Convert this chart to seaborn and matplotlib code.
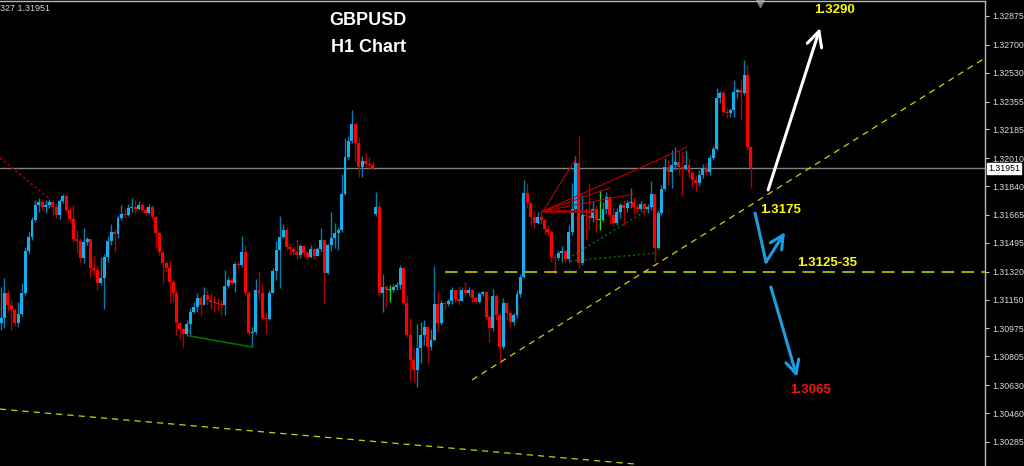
import numpy as np
import pandas as pd
import matplotlib
matplotlib.use("Agg")
import matplotlib.pyplot as plt
import matplotlib.transforms as mtransforms
import seaborn as sns

# GBPUSD H1 candles, open = previous close
first_open = 1.31008
gap_index = 109
gap_open = 1.31671

closes = [
    1.31039, 1.31191, 1.31118, 1.31087, 1.31008, 1.31063, 1.31191, 1.31446, 1.31531, 1.31634,
    1.31726, 1.31744, 1.31713, 1.31726, 1.31744, 1.31713, 1.31665, 1.31750, 1.31780, 1.31695,
    1.31640, 1.31519, 1.31507, 1.31403, 1.31501, 1.31519, 1.31343, 1.31330, 1.31251, 1.31282,
    1.31409, 1.31507, 1.31561, 1.31549, 1.31647, 1.31671, 1.31665, 1.31707, 1.31713, 1.31701,
    1.31726, 1.31695, 1.31677, 1.31713, 1.31653, 1.31555, 1.31440, 1.31373, 1.31343, 1.31257,
    1.31191, 1.31008, 1.30972, 1.30941, 1.31002, 1.31075, 1.31105, 1.31160, 1.31118, 1.31178,
    1.31148, 1.31136, 1.31130, 1.31124, 1.31118, 1.31233, 1.31270, 1.31251, 1.31367, 1.31361,
    1.31440, 1.31191, 1.30947, 1.30953, 1.31209, 1.31191, 1.31039, 1.31032, 1.31191, 1.31324,
    1.31452, 1.31531, 1.31574, 1.31470, 1.31458, 1.31440, 1.31422, 1.31476, 1.31434, 1.31409,
    1.31458, 1.31416, 1.31458, 1.31513, 1.31312, 1.31482, 1.31525, 1.31555, 1.31574, 1.31792,
    1.32017, 1.32115, 1.32218, 1.32103, 1.31957, 1.31993, 1.31975, 1.31969, 1.31944, 1.31713,
    1.31191, 1.31227, 1.31209, 1.31209, 1.31227, 1.31239, 1.31343, 1.31130, 1.30935, 1.30783,
    1.30722, 1.30856, 1.30935, 1.30984, 1.30862, 1.30905, 1.31124, 1.31008, 1.31130, 1.31124,
    1.31142, 1.31209, 1.31154, 1.31142, 1.31209, 1.31191, 1.31209, 1.31160, 1.31136, 1.31184,
    1.31197, 1.31045, 1.30978, 1.31172, 1.31057, 1.30862, 1.31130, 1.31069, 1.31014, 1.31057,
    1.31184, 1.31288, 1.31799, 1.31738, 1.31653, 1.31616, 1.31653, 1.31634, 1.31580, 1.31561,
    1.31409, 1.31403, 1.31434, 1.31446, 1.31397, 1.31561, 1.31701, 1.31981, 1.31373, 1.31665,
    1.31659, 1.31647, 1.31701, 1.31634, 1.31634, 1.31701, 1.31774, 1.31665, 1.31616, 1.31683,
    1.31726, 1.31707, 1.31738, 1.31744, 1.31713, 1.31701, 1.31732, 1.31701, 1.31713, 1.31792,
    1.31464, 1.31677, 1.31823, 1.31957, 1.31926, 1.31969, 1.31987, 1.31957, 1.31951, 1.31969,
    1.31920, 1.31878, 1.31859, 1.31908, 1.31951, 1.31926, 1.32011, 1.32066, 1.32376, 1.32407,
    1.32291, 1.32285, 1.32303, 1.32413, 1.32425, 1.32407, 1.32516, 1.32078, 1.31951,
]
highs = [
    1.31227, 1.31282, 1.31209, 1.31148, 1.31099, 1.31136, 1.31251, 1.31470, 1.31561, 1.31653,
    1.31756, 1.31768, 1.31756, 1.31756, 1.31762, 1.31756, 1.31738, 1.31762, 1.31792, 1.31786,
    1.31720, 1.31726, 1.31574, 1.31525, 1.31586, 1.31531, 1.31519, 1.31422, 1.31361, 1.31409,
    1.31428, 1.31537, 1.31610, 1.31580, 1.31665, 1.31726, 1.31707, 1.31732, 1.31768, 1.31756,
    1.31750, 1.31738, 1.31713, 1.31732, 1.31726, 1.31659, 1.31568, 1.31446, 1.31385, 1.31391,
    1.31270, 1.31209, 1.31014, 1.30978, 1.31026, 1.31099, 1.31136, 1.31191, 1.31172, 1.31227,
    1.31209, 1.31191, 1.31172, 1.31160, 1.31148, 1.31330, 1.31288, 1.31282, 1.31379, 1.31385,
    1.31537, 1.31482, 1.31203, 1.30984, 1.31276, 1.31324, 1.31245, 1.31075, 1.31209, 1.31343,
    1.31507, 1.31659, 1.31610, 1.31592, 1.31488, 1.31470, 1.31513, 1.31488, 1.31482, 1.31446,
    1.31482, 1.31464, 1.31470, 1.31586, 1.31513, 1.31488, 1.31683, 1.31616, 1.31592, 1.31914,
    1.32133, 1.32145, 1.32303, 1.32224, 1.32139, 1.32024, 1.32042, 1.32017, 1.31987, 1.31805,
    1.31744, 1.31306, 1.31239, 1.31239, 1.31245, 1.31257, 1.31361, 1.31349, 1.31178, 1.31039,
    1.30862, 1.31002, 1.31014, 1.31026, 1.30984, 1.30972, 1.31355, 1.31203, 1.31148, 1.31142,
    1.31154, 1.31227, 1.31209, 1.31233, 1.31227, 1.31257, 1.31227, 1.31215, 1.31172, 1.31197,
    1.31203, 1.31203, 1.31057, 1.31215, 1.31184, 1.31075, 1.31160, 1.31136, 1.31087, 1.31069,
    1.31209, 1.31306, 1.31878, 1.31859, 1.31744, 1.31695, 1.31683, 1.31695, 1.31647, 1.31604,
    1.31574, 1.31428, 1.31452, 1.31476, 1.31452, 1.31604, 1.31859, 1.32024, 1.32145, 1.31786,
    1.31707, 1.31859, 1.31750, 1.31726, 1.31817, 1.31744, 1.31805, 1.31780, 1.31707, 1.31707,
    1.31738, 1.31756, 1.31756, 1.31829, 1.31774, 1.31738, 1.31750, 1.31738, 1.31732, 1.31872,
    1.31792, 1.31695, 1.31847, 1.32011, 1.31999, 1.32060, 1.32078, 1.32060, 1.32048, 1.32060,
    1.32011, 1.31938, 1.31908, 1.31938, 1.31975, 1.31981, 1.32030, 1.32084, 1.32437, 1.32419,
    1.32425, 1.32315, 1.32315, 1.32486, 1.32437, 1.32486, 1.32607, 1.32577, 1.32084,
]
lows = [
    1.30966, 1.30978, 1.31075, 1.30966, 1.30990, 1.30984, 1.31051, 1.31178, 1.31428, 1.31513,
    1.31622, 1.31683, 1.31695, 1.31677, 1.31707, 1.31659, 1.31647, 1.31640, 1.31738, 1.31683,
    1.31622, 1.31501, 1.31434, 1.31379, 1.31373, 1.31482, 1.31288, 1.31300, 1.31209, 1.31239,
    1.31093, 1.31379, 1.31482, 1.31440, 1.31525, 1.31634, 1.31647, 1.31659, 1.31683, 1.31677,
    1.31695, 1.31683, 1.31665, 1.31671, 1.31640, 1.31470, 1.31422, 1.31251, 1.31318, 1.31136,
    1.31136, 1.30935, 1.30905, 1.30862, 1.30929, 1.30929, 1.31069, 1.31075, 1.31051, 1.31118,
    1.31118, 1.31093, 1.31075, 1.31087, 1.31057, 1.31057, 1.31221, 1.31239, 1.31197, 1.31343,
    1.31349, 1.31178, 1.30935, 1.30862, 1.30941, 1.31148, 1.31026, 1.30941, 1.31026, 1.31191,
    1.31270, 1.31221, 1.31525, 1.31452, 1.31422, 1.31422, 1.31397, 1.31403, 1.31409, 1.31397,
    1.31403, 1.31397, 1.31416, 1.31446, 1.31130, 1.31306, 1.31446, 1.31464, 1.31452, 1.31561,
    1.31786, 1.31999, 1.32103, 1.31987, 1.31896, 1.31896, 1.31957, 1.31951, 1.31938, 1.31659,
    1.31178, 1.31075, 1.31099, 1.31136, 1.31197, 1.31209, 1.31215, 1.31118, 1.30923, 1.30668,
    1.30643, 1.30619, 1.30765, 1.30874, 1.30765, 1.30844, 1.30899, 1.30953, 1.30996, 1.31093,
    1.31112, 1.31124, 1.31136, 1.31118, 1.31142, 1.31172, 1.31172, 1.31136, 1.31124, 1.31130,
    1.31172, 1.31032, 1.30893, 1.30960, 1.31026, 1.30765, 1.30850, 1.31026, 1.30978, 1.30996,
    1.31039, 1.31166, 1.31282, 1.31707, 1.31604, 1.31586, 1.31610, 1.31610, 1.31543, 1.31537,
    1.31379, 1.31306, 1.31391, 1.31379, 1.31379, 1.31379, 1.31543, 1.31683, 1.31343, 1.31361,
    1.31513, 1.31574, 1.31622, 1.31561, 1.31574, 1.31622, 1.31671, 1.31610, 1.31598, 1.31604,
    1.31647, 1.31604, 1.31683, 1.31707, 1.31671, 1.31677, 1.31689, 1.31665, 1.31677, 1.31695,
    1.31379, 1.31458, 1.31665, 1.31817, 1.31847, 1.31829, 1.31938, 1.31908, 1.31780, 1.31938,
    1.31890, 1.31841, 1.31805, 1.31841, 1.31890, 1.31908, 1.31908, 1.31999, 1.32060, 1.32346,
    1.32273, 1.32255, 1.32261, 1.32261, 1.32376, 1.32242, 1.32394, 1.32060, 1.31829,
]

price_ticks = [1.32875, 1.32700, 1.32530, 1.32355, 1.32185, 1.32010, 1.31840, 1.31665,
               1.31495, 1.31320, 1.31150, 1.30975, 1.30805, 1.30630, 1.30460, 1.30285]
last_price = 1.31951

# drawn objects: (bar index, price)
support_level = 1.31320
support_start = 129.1
trend_up = [(136.9, 1.30662), (286.05, 1.32619)]
trend_low = [(-0.3, 1.30485), (184.3, 1.30151)]
red_dotted = [(-0.3, 1.32011), (14.2, 1.31762)]
green_line = [(55.0, 1.30929), (73.0, 1.30862)]
fan_pivot = (157.6, 1.31689)
fan_ends = [(167.2, 1.32011), (199.4, 1.32078), (177.0, 1.31829), (183.7, 1.31792)]
fan_flat_end = 172.1
green_dots = [[(165.4, 1.31385), (190.7, 1.31434)], [(166.0, 1.31416), (187.8, 1.31695)]]

up_arrow = [(223.0, 1.31817), (238.1, 1.32802)]
bounce = [(219.2, 1.31677), (222.4, 1.31379), (227.9, 1.31561)]
down_arrow = [(223.8, 1.31227), (231.4, 1.30680)]

labels = [("1.3290", 242.4, 1.32911, "#FFFF00"),
          ("1.3175", 226.5, 1.31695, "#FFFF00"),
          ("1.3125-35", 240.1, 1.31373, "#FFFF00"),
          ("1.3065", 235.2, 1.30601, "#FF1010")]

sns.set_theme(style="dark", rc={"axes.facecolor": "black", "figure.facecolor": "black"})
plt.rcParams['font.family'] = ['Liberation Sans', 'DejaVu Sans']

opens = [first_open] + closes[:-1]
opens[gap_index] = gap_open
df = pd.DataFrame({"o": opens, "h": highs, "l": lows, "c": closes})
df["i"] = np.arange(len(df))

UP, DOWN, DOJI = "#12AEEE", "#FF0000", "#22DD22"
UP_W, DOWN_W = "#0B7EA8", "#B00000"
body_col = np.where(df.c > df.o, UP, np.where(df.c < df.o, DOWN, DOJI))
wick_col = np.where(df.c > df.o, UP_W, np.where(df.c < df.o, DOWN_W, DOJI))

fig = plt.figure(figsize=(10.24, 4.66), dpi=100)
ax = fig.add_axes([0, 0, 985 / 1024, 465 / 466])

ax.axhline(last_price, color="#808080", lw=1, zorder=1)

ax.vlines(df.i, df.l, df.h, colors=wick_col, lw=1.0, zorder=2)
ax.bar(df.i, np.maximum((df.c - df.o).abs(), 0.00004), bottom=np.minimum(df.o, df.c),
       width=0.86, color=body_col, linewidth=0, zorder=3)


def seg(pts, **kw):
    xs = [p[0] for p in pts]
    ys = [p[1] for p in pts]
    sns.lineplot(x=xs, y=ys, ax=ax, sort=False, estimator=None, **kw)


# yellow support / trend lines
seg([(support_start, support_level), (286.05, support_level)], color="#B8B800", lw=1.3,
    linestyle=(0, (7, 4)), zorder=4)
seg(trend_up, color="#D0D000", lw=0.9, linestyle=(0, (5, 4)), zorder=4)
seg(trend_low, color="#D0D000", lw=0.9, linestyle=(0, (5, 4)), zorder=4)
seg(red_dotted, color="#C00000", lw=1.2, linestyle=(0, (1.2, 1.8)), zorder=4)
seg(green_line, color="#007000", lw=1.2, zorder=4)
for end in fan_ends:
    seg([fan_pivot, end], color="#C00000", lw=0.8, zorder=4)
seg([fan_pivot, (fan_flat_end, fan_pivot[1])], color="#B00000", lw=1.8, zorder=4)
for d in green_dots:
    seg(d, color="#007A00", lw=1.0, linestyle=(0, (1.5, 2)), zorder=4)

# arrows
ax.annotate("", xy=up_arrow[1], xytext=up_arrow[0],
            arrowprops=dict(arrowstyle="->,head_length=0.9,head_width=0.45", color="white",
                            lw=2.2, shrinkA=0, shrinkB=0), zorder=5)
BLUE = "#1C9EE2"
seg(bounce[:2], color=BLUE, lw=2.2, zorder=5)
ax.annotate("", xy=bounce[2], xytext=bounce[1],
            arrowprops=dict(arrowstyle="->,head_length=0.8,head_width=0.4", color=BLUE,
                            lw=2.2, shrinkA=0, shrinkB=0), zorder=5)
ax.annotate("", xy=down_arrow[1], xytext=down_arrow[0],
            arrowprops=dict(arrowstyle="->,head_length=0.8,head_width=0.4", color=BLUE,
                            lw=2.2, shrinkA=0, shrinkB=0), zorder=5)

for txt, x, y, col in labels:
    ax.text(x, y, txt, color=col, fontsize=9.5, fontweight="bold", ha="center", va="center", zorder=6)

ax.text(106.7, 1.32850, "GBPUSD", color="white", fontsize=13, fontweight="bold", ha="center", va="center")
ax.text(106.7, 1.32686, "H1 Chart", color="white", fontsize=13, fontweight="bold", ha="center", va="center")

ax.text(0.0, 0.984, "327 1.31951", transform=ax.transAxes, color="#D8D8D8", fontsize=6.5,
        ha="left", va="center")
ax.plot([0.772], [0.996], marker="v", color="#808080", ms=6, transform=ax.transAxes, clip_on=False)

ax.set_xlim(-0.3, 286.05)
ax.set_ylim(1.30139, 1.32966)
ax.set_xticks([])
ax.set_xlabel("")
ax.set_ylabel("")
ax.yaxis.tick_right()
ax.set_yticks(price_ticks)
ax.set_yticklabels([f"{v:.5f}" for v in price_ticks])
ax.tick_params(axis="y", color="#C8C8C8", labelcolor="#DADADA", labelsize=6.3,
               length=3, width=0.8, pad=2, direction="out", right=True, left=False)
for s in ["left", "bottom"]:
    ax.spines[s].set_visible(False)
for s in ["top", "right"]:
    ax.spines[s].set_visible(True)
    ax.spines[s].set_color("#B8B8B8")
    ax.spines[s].set_linewidth(1)

trans = mtransforms.blended_transform_factory(ax.transAxes, ax.transData)
ax.text(1.003, last_price - 0.00002, f"{last_price:.5f}", transform=trans, ha="left", va="center",
        fontsize=6.3, color="black", zorder=7,
        bbox=dict(boxstyle="square,pad=0.1", fc="white", ec="white"))

fig.savefig("out.png", dpi=100, facecolor="black")
